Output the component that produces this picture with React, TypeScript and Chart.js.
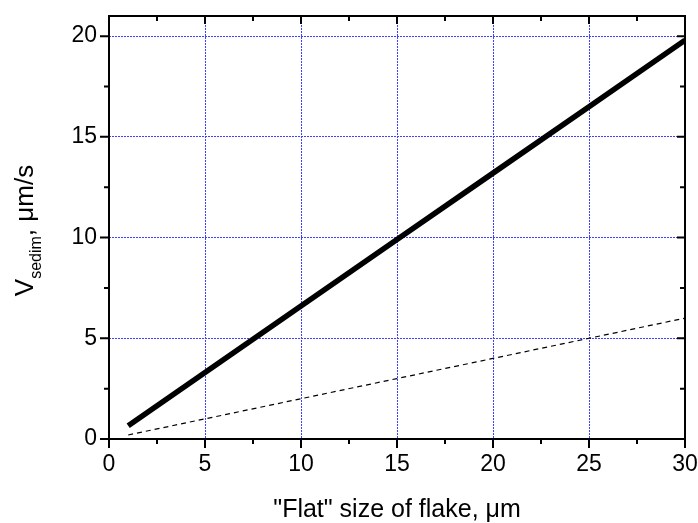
import React, { useEffect, useRef } from "react";
import { Chart, registerables } from "chart.js";

Chart.register(...registerables);

const flakeSize = [1, 5, 10, 15, 20, 25, 30];
const vSedimThick = [0.66, 3.3, 6.6, 9.9, 13.2, 16.5, 19.8];
const vSedimDashed = [0.2, 1.0, 2.0, 3.0, 4.0, 5.0, 6.0];
const xMajorTicks = [0, 5, 10, 15, 20, 25, 30];
const xMinorTicks = [2.5, 7.5, 12.5, 17.5, 22.5, 27.5];
const yMajorTicks = [0, 5, 10, 15, 20];
const yMinorTicks = [2.5, 7.5, 12.5, 17.5];
const xTitle = '"Flat" size of flake, \u03BCm';
const yTitleMain = "V";
const yTitleSub = "sedim";
const yTitleRest = ", \u03BCm/s";

const FONT = "'Liberation Sans', Arial, sans-serif";

const framePlugin = {
  id: "frameAndTitles",
  afterDraw(chart: any) {
    const ctx = chart.ctx;
    const { left, right, top, bottom } = chart.chartArea;
    const xs = chart.scales.x;
    const ys = chart.scales.y;
    ctx.save();
    ctx.setLineDash([]);
    ctx.strokeStyle = "#000";
    ctx.lineWidth = 2;
    ctx.strokeRect(left, top, right - left, bottom - top);
    ctx.lineWidth = 2;
    const major = 9;
    const minor = 5;
    ctx.beginPath();
    xMajorTicks.forEach((v) => {
      const p = xs.getPixelForValue(v);
      ctx.moveTo(p, bottom);
      ctx.lineTo(p, bottom + major);
      ctx.moveTo(p, top);
      ctx.lineTo(p, top + major - 1);
    });
    xMinorTicks.forEach((v) => {
      const p = xs.getPixelForValue(v);
      ctx.moveTo(p, bottom);
      ctx.lineTo(p, bottom + minor);
      ctx.moveTo(p, top);
      ctx.lineTo(p, top + minor);
    });
    yMajorTicks.forEach((v) => {
      const p = ys.getPixelForValue(v);
      ctx.moveTo(left, p);
      ctx.lineTo(left - major, p);
      ctx.moveTo(right, p);
      ctx.lineTo(right - major + 1, p);
    });
    yMinorTicks.forEach((v) => {
      const p = ys.getPixelForValue(v);
      ctx.moveTo(left, p);
      ctx.lineTo(left - minor, p);
      ctx.moveTo(right, p);
      ctx.lineTo(right - minor, p);
    });
    ctx.stroke();

    // X title
    ctx.fillStyle = "#000";
    ctx.font = `25px ${FONT}`;
    ctx.textAlign = "center";
    ctx.textBaseline = "alphabetic";
    ctx.fillText(xTitle, (left + right) / 2, 517);

    // Y title with subscript
    ctx.textAlign = "left";
    const mainFont = `26px ${FONT}`;
    const subFont = `16px ${FONT}`;
    ctx.font = mainFont;
    const wV = ctx.measureText(yTitleMain).width;
    const wRest = ctx.measureText(yTitleRest).width;
    ctx.font = subFont;
    const wSub = ctx.measureText(yTitleSub).width;
    const total = wV + wSub + wRest;
    const centerY = 230.5;
    ctx.translate(33, centerY + total / 2);
    ctx.rotate(-Math.PI / 2);
    ctx.font = mainFont;
    ctx.fillText(yTitleMain, 0, 0);
    ctx.font = subFont;
    ctx.fillText(yTitleSub, wV, 8);
    ctx.font = mainFont;
    ctx.fillText(yTitleRest, wV + wSub, 0);
    ctx.restore();
  },
};

export default function App() {
  const canvasRef = useRef<HTMLCanvasElement | null>(null);

  useEffect(() => {
    if (!canvasRef.current) return;
    const gridCommon = {
      color: "#4040ff",
      lineWidth: 1,
      drawTicks: false,
    };
    const chart = new Chart(canvasRef.current, {
      type: "scatter",
      data: {
        datasets: [
          {
            data: flakeSize.map((x, i) => ({ x, y: vSedimThick[i] })),
            showLine: true,
            borderColor: "#000",
            borderWidth: 5.5,
            pointRadius: 0,
            order: 0,
          },
          {
            data: flakeSize.map((x, i) => ({ x, y: vSedimDashed[i] })),
            showLine: true,
            borderColor: "#000",
            borderWidth: 1.2,
            borderDash: [5, 4],
            pointRadius: 0,
            order: 1,
          },
        ],
      },
      options: {
        animation: false,
        responsive: false,
        maintainAspectRatio: false,
        layout: { padding: { top: 16, right: 13, left: 0, bottom: 0 } },
        plugins: {
          legend: { display: false },
          tooltip: { enabled: false },
        },
        scales: {
          x: {
            type: "linear",
            position: "bottom",
            min: 0,
            max: 30,
            afterFit: (s: any) => {
              s.height = 84;
              s.paddingLeft = 0;
              s.paddingRight = 0;
            },
            ticks: {
              stepSize: 5,
              includeBounds: false,
              font: { family: FONT, size: 23 },
              color: "#000",
              padding: 12,
              maxRotation: 0,
            },
            grid: gridCommon,
            border: { display: false, dash: [2, 1] },
          },
          y: {
            type: "linear",
            min: 0,
            max: 21,
            afterFit: (s: any) => {
              s.width = 109;
              s.paddingTop = 0;
              s.paddingBottom = 0;
            },
            ticks: {
              stepSize: 5,
              includeBounds: false,
              font: { family: FONT, size: 23 },
              color: "#000",
              padding: 12,
            },
            grid: gridCommon,
            border: { display: false, dash: [2, 1] },
          },
        },
      },
      plugins: [framePlugin],
    });
    return () => chart.destroy();
  }, []);

  return (
    <div style={{ position: "fixed", left: 0, top: 0, width: 698, height: 523, background: "#fff" }}>
      <canvas ref={canvasRef} width={698} height={523} style={{ display: "block" }} />
    </div>
  );
}
